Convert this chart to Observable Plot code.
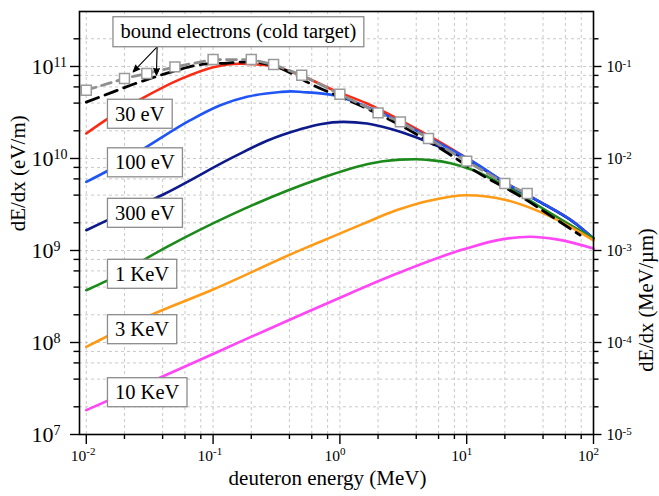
<!DOCTYPE html>
<html><head><meta charset="utf-8">
<script src="https://cdn.jsdelivr.net/npm/d3@7"></script>
<script src="https://cdn.jsdelivr.net/npm/@observablehq/plot@0.6"></script>
<style>body{margin:0;background:#fff} svg{display:block}</style>
</head><body><div id="chart"></div>
<script>
// ---- data (deuteron energy in MeV, dE/dx in eV/m) ----
const e30eV = [0.01, 0.0142, 0.0267, 0.0552, 0.1005, 0.164, 0.267, 0.488, 0.891, 1.635, 2.99, 5.47, 10.0, 20.7, 37.9, 69.5, 100];
const s30eV = [1.87e10, 2.61e10, 4.38e10, 7.28e10, 9.82e10, 1.07e11, 1.03e11, 8.04e10, 5.52e10, 3.96e10, 2.61e10, 1.65e10, 1.01e10, 5.35e9, 3.37e9, 2.05e9, 1.35e9];

const e100eV = [0.01, 0.01477, 0.02927, 0.0662, 0.1141, 0.1854, 0.339, 0.41, 0.5, 0.892, 1.635, 2.99, 5.47, 11.3, 20.7, 37.9, 69.5, 100];
const s100eV = [5.57e9, 7.36e9, 1.31e10, 2.61e10, 3.79e10, 4.68e10, 5.28e10, 5.36e10, 5.28e10, 4.88e10, 3.64e10, 2.50e10, 1.58e10, 9.18e9, 5.35e9, 3.37e9, 2.05e9, 1.35e9];

const e300eV = [0.01, 0.01442, 0.0408, 0.1453, 0.2664, 0.488, 0.701, 1.07, 1.635, 2.99, 4.57, 7.46, 11.3, 20.7, 37.9, 69.5, 100];
const s300eV = [1.66e9, 2.11e9, 4.09e9, 1.04e10, 1.56e10, 2.08e10, 2.36e10, 2.50e10, 2.40e10, 1.95e10, 1.58e10, 1.18e10, 8.89e9, 5.26e9, 3.35e9, 2.03e9, 1.35e9];

const e1keV = [0.01, 0.01461, 0.0408, 0.1453, 0.701, 1.635, 2.2, 2.99, 3.93, 5.16, 7.46, 11.3, 20.7, 37.9, 69.5, 100];
const s1keV = [3.70e8, 4.70e8, 1.05e9, 2.52e9, 6.07e9, 8.65e9, 9.35e9, 9.72e9, 9.82e9, 9.60e9, 8.89e9, 7.46e9, 4.91e9, 2.98e9, 1.81e9, 1.35e9];

const e3keV = [0.01, 0.0321, 0.1, 0.488, 0.840, 1.537, 2.82, 5.16, 10.0, 20.7, 37.9, 69.5, 100];
const s3keV = [8.96e7, 1.98e8, 3.77e8, 1.01e9, 1.38e9, 1.96e9, 2.75e9, 3.50e9, 3.99e9, 3.52e9, 2.63e9, 1.73e9, 1.29e9];

const e10keV = [0.01, 0.0384, 0.840, 2.82, 9.44, 19.4, 31.6, 51.4, 100];
const s10keV = [1.84e7, 4.17e7, 2.76e8, 5.62e8, 1.03e9, 1.33e9, 1.41e9, 1.32e9, 1.05e9];

// bound electrons (cold target): black dashed model
const eBound = [0.01, 0.0129, 0.0244, 0.0384, 0.052, 0.0843, 0.129, 0.185, 0.293, 0.64, 1.74, 2.99, 6.98, 11.7, 28.9, 43.9, 78.3];
const sBound = [4.10e10, 4.68e10, 6.53e10, 8.04e10, 9.12e10, 1.06e11, 1.09e11, 1.12e11, 1.03e11, 6.11e10, 3.35e10, 2.30e10, 1.16e10, 7.28e9, 3.61e9, 2.48e9, 1.47e9];

// bound electrons (cold target): grey dashed with squares
const eCold = [0.01, 0.02, 0.03, 0.05, 0.1, 0.2, 0.3, 0.5, 1, 2, 3, 5, 10, 20, 30];
const sCold = [5.52e10, 7.41e10, 8.4e10, 9.9e10, 1.19e11, 1.19e11, 1.05e11, 8.04e10, 5.0e10, 3.13e10, 2.5e10, 1.65e10, 9.36e9, 5.35e9, 4.17e9];

// labels
const tempLabels = ["30 eV", "100 eV", "300 eV", "1 KeV", "3 KeV", "10 KeV"];
const tempLabelY = [3.03e10, 8.99e9, 2.54e9, 5.52e8, 1.38e8, 2.85e7];
const tempLabelX = 0.01683;
const boundLabel = "bound electrons (cold target)";
const boundLabelX = 0.0186, boundLabelY = 2.39e11;
const arrowFrom = [0.0362, 1.63e11];
const arrowTipsX = [0.0234, 0.0357];
const arrowTipsY = [8.73e10, 8.05e10];

// axis ticks
const xMajor = [0.01, 0.1, 1, 10, 100];
const yMajor = [1e7, 1e8, 1e9, 1e10, 1e11];
const minorMult = [2, 4, 6, 8];
const xTitle = "deuteron energy (MeV)";
const yTitleLeft = "dE/dx (eV/m)";
const yTitleRight = "dE/dx (MeV/\u00b5m)";
const rightOffset = 12; // right axis = left axis / 1e12

// ---- build tables ----
const toRows = (e, s) => e.map((v, i) => ({e: v, s: s[i]}));
const xMinor = xMajor.slice(0, -1).flatMap(d => minorMult.map(m => d * m));
const yMinor = yMajor.flatMap(d => minorMult.map(m => d * m)).filter(v => v < 3.96e11);
const labelRows = tempLabels.map((t, i) => ({t, x: tempLabelX, y: tempLabelY[i]}));
const arrowRows = arrowTipsX.map((x, i) => ({x1: arrowFrom[0], y1: arrowFrom[1], x2: x, y2: arrowTipsY[i]}));
const exp = d => String(Math.round(Math.log10(d)));

const serif = "Liberation Serif";
const lineOpts = {x: "e", y: "s", strokeWidth: 2.6, curve: "monotone-x"};

const chart = Plot.plot({
  width: 659, height: 496,
  marginLeft: 79, marginRight: 66, marginTop: 11, marginBottom: 62,
  style: {fontFamily: serif, background: "white", color: "black"},
  x: {type: "log", domain: [0.00884, 100]},
  y: {type: "log", domain: [1e7, 3.96e11]},
  marks: [
    Plot.gridX({ticks: xMajor.concat(xMinor), stroke: "#c9c9c9", strokeOpacity: 1, strokeDasharray: "3,3"}),
    Plot.gridY({ticks: yMajor.concat(yMinor), stroke: "#c9c9c9", strokeOpacity: 1, strokeDasharray: "3,3"}),
    Plot.line(toRows(e30eV, s30eV), {...lineOpts, stroke: "#fa2a14"}),
    Plot.line(toRows(e300eV, s300eV), {...lineOpts, stroke: "#0c1a8c"}),
    Plot.line(toRows(e100eV, s100eV), {...lineOpts, stroke: "#1f55f5"}),
    Plot.line(toRows(e1keV, s1keV), {...lineOpts, stroke: "#1b8a1b"}),
    Plot.line(toRows(e3keV, s3keV), {...lineOpts, stroke: "#ff9a16"}),
    Plot.line(toRows(e10keV, s10keV), {...lineOpts, stroke: "#ff46f5"}),
    Plot.line(toRows(eBound, sBound), {x: "e", y: "s", stroke: "black", strokeWidth: 2.8, strokeDasharray: "13,7", curve: "monotone-x"}),
    Plot.line(toRows(eCold, sCold), {x: "e", y: "s", stroke: "#8e8e8e", strokeWidth: 2.8, strokeDasharray: "10,6"}),
    Plot.dot(toRows(eCold, sCold), {x: "e", y: "s", symbol: "square", r: 5.6, fill: "white", stroke: "#9a9a9a", strokeWidth: 1.5}),
    // frame and ticks
    Plot.frame({stroke: "black", strokeWidth: 1.6}),
    Plot.axisX({ticks: xMajor, tickSize: 10, tickFormat: () => "", label: null, strokeWidth: 1.4}),
    Plot.axisX({ticks: xMinor, tickSize: 5, tickFormat: () => "", label: null, strokeWidth: 1.4}),
    Plot.axisY({anchor: "left", ticks: yMajor, tickSize: 9, tickFormat: () => "", label: null, strokeWidth: 1.4}),
    Plot.axisY({anchor: "left", ticks: yMinor, tickSize: 5.5, tickFormat: () => "", label: null, strokeWidth: 1.4}),
    Plot.axisY({anchor: "right", ticks: yMajor, tickSize: 7.5, tickFormat: () => "", label: null, strokeWidth: 1.4}),
    Plot.axisY({anchor: "right", ticks: yMinor, tickSize: 4.5, tickFormat: () => "", label: null, strokeWidth: 1.4}),
    // tick labels (10^n)
    Plot.text(yMajor, {y: d => d, frameAnchor: "left", text: () => "10", textAnchor: "end", dx: -26, fontSize: 22}),
    Plot.text(yMajor, {y: d => d, frameAnchor: "left", text: exp, textAnchor: "start", dx: -26, dy: -4, fontSize: 14}),
    Plot.text(yMajor, {y: d => d, frameAnchor: "right", text: () => "10", textAnchor: "start", dx: 13, fontSize: 16}),
    Plot.text(yMajor, {y: d => d, frameAnchor: "right", text: d => String(Math.round(Math.log10(d)) - rightOffset), textAnchor: "start", dx: 29, dy: -3, fontSize: 11}),
    Plot.text(xMajor, {x: d => d, frameAnchor: "bottom", text: () => "10", textAnchor: "end", dy: 26, fontSize: 15.5}),
    Plot.text(xMajor, {x: d => d, frameAnchor: "bottom", text: exp, textAnchor: "start", dy: 20, fontSize: 11}),
    // axis titles
    Plot.text([xTitle], {text: d => d, frameAnchor: "bottom", dx: -9, dy: 50, fontSize: 21}),
    Plot.text([yTitleLeft], {text: d => d, frameAnchor: "left", rotate: -90, dx: -61.7, dy: 8.3, fontSize: 21}),
    Plot.text([yTitleRight], {text: d => d, frameAnchor: "right", rotate: -90, dx: 52.5, dy: 5.3, fontSize: 20.5}),
    // annotations
    Plot.arrow(arrowRows, {x1: "x1", y1: "y1", x2: "x2", y2: "y2", stroke: "black", fill: "black", strokeWidth: 1.1, headLength: 10, headAngle: 45}),
    Plot.text(labelRows, {x: "x", y: "y", text: "t", textAnchor: "start", fontSize: 20.5}),
    Plot.text([boundLabel], {x: () => boundLabelX, y: () => boundLabelY, text: d => d, textAnchor: "start", fontSize: 20.5})
  ]
});

document.getElementById("chart").appendChild(chart);

// boxes behind annotation labels
const boxed = new Set(tempLabels.concat([boundLabel]));
chart.querySelectorAll("text").forEach(t => {
  if (!boxed.has(t.textContent)) return;
  const b = t.getBBox();
  const padX = 7.5, padY = 3.5;
  const r = document.createElementNS("http://www.w3.org/2000/svg", "rect");
  r.setAttribute("x", b.x - padX);
  r.setAttribute("y", b.y - padY);
  r.setAttribute("width", b.width + 2 * padX);
  r.setAttribute("height", b.height + 2 * padY);
  r.setAttribute("fill", "white");
  r.setAttribute("stroke", "#8c8c8c");
  r.setAttribute("stroke-width", "1.3");
  if (t.getAttribute("transform")) r.setAttribute("transform", t.getAttribute("transform"));
  t.parentNode.insertBefore(r, t);
});
</script>
</body></html>
